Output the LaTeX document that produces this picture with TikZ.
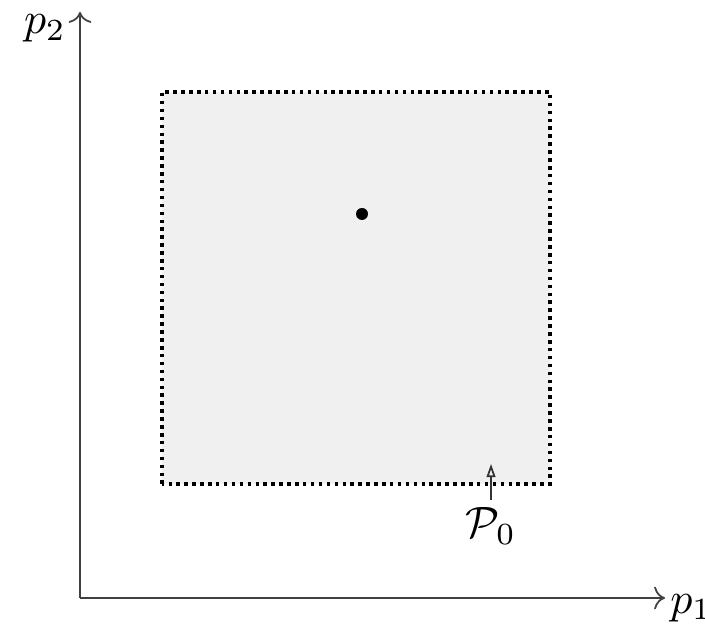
\documentclass[tikz,border=0pt]{standalone}
\usepackage{amsmath,amssymb}
\usetikzlibrary{arrows.meta}

\begin{document}
\begin{tikzpicture}[scale=0.4]
    \useasboundingbox(-1.6,-0.58)rectangle(12.5,11.96);
    % axis
    \coordinate(O)at(0,0);
    \coordinate[label={[anchor=north west, inner sep=0pt, xshift=1pt, yshift=1pt]:$p_1$}](t)at(11.7,0);
    \coordinate[label={[anchor=north east, inner sep=0pt, xshift=-3pt, yshift=-0.5pt]:$p_2$}](x)at(0,11.72);
    \path[draw, black!75, ->](O)to(t);
    \path[draw, black!75, ->](O)to(x);
    % region
    \path[fill=black!6, draw, line width=0.8pt, densely dotted](1.64,2.28)rectangle(9.4,10.12);
    \path[fill](5.64,7.68)circle(0.12);
    % label
    \node[inner sep=0pt](P)at(8.22,1.44){$\mathcal{P}_0$};
    \coordinate(a0)at(8.22,1.96);
    \coordinate(a1)at(8.22,2.68);
    \path[draw, black!80, -{Triangle[open, length=3pt, width=2pt]}](a0)to(a1);
\end{tikzpicture}
\end{document}
